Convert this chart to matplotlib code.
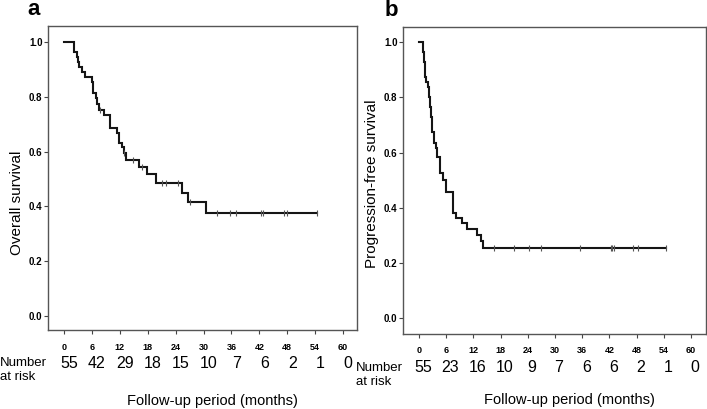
import numpy as np
import matplotlib
matplotlib.use("Agg")
import matplotlib.pyplot as plt
from matplotlib import font_manager

# ---------------- data ----------------
# Overall survival (panel a): step times (months) and survival after each step
os_times = [0, 2.15, 2.7, 3.0, 3.2, 3.8, 4.5, 6.0, 6.15, 6.3, 6.8, 7.0, 7.5, 8.6,
            9.9, 11.5, 11.9, 12.4, 12.9, 13.3, 16.1, 17.8, 19.8, 25.3, 26.6, 30.5]
os_surv = [1.0, 0.964, 0.945, 0.927, 0.909, 0.891, 0.873, 0.855, 0.836, 0.813, 0.795,
           0.774, 0.752, 0.733, 0.687, 0.669, 0.630, 0.618, 0.594, 0.569, 0.545,
           0.518, 0.486, 0.450, 0.417, 0.375]
os_censor = [7.7, 12.9, 14.8, 16.8, 21.0, 21.9, 24.6, 27.1, 32.8, 35.6, 37.0,
             42.4, 42.7, 47.2, 48.0, 54.5]
os_end = 54.5

# Progression-free survival (panel b)
pfs_times = [0, 0.8, 1.1, 1.25, 1.4, 1.55, 2.05, 2.2, 2.43, 2.6, 2.8, 3.3, 3.7, 4.04,
             4.63, 5.23, 5.96, 7.6, 8.16, 9.42, 10.6, 12.7, 13.6, 14.05]
pfs_surv = [1.0, 0.964, 0.927, 0.909, 0.873, 0.855, 0.836, 0.800, 0.764, 0.727,
            0.673, 0.636, 0.618, 0.582, 0.527, 0.500, 0.455, 0.382, 0.364, 0.345,
            0.323, 0.300, 0.280, 0.252]
pfs_censor = [16.6, 21.0, 24.3, 26.8, 35.5, 42.3, 42.6, 42.9, 47.1, 48.2, 54.5]
pfs_end = 54.5

x_ticks = [0, 6, 12, 18, 24, 30, 36, 42, 48, 54, 60]
y_ticks = [0.0, 0.2, 0.4, 0.6, 0.8, 1.0]
os_at_risk = ["55", "42", "29", "18", "15", "10", "7", "6", "2", "1", "0"]
pfs_at_risk = ["55", "23", "16", "10", "9", "7", "6", "6", "2", "1", "0"]

# ---------------- style ----------------
names = {f.name for f in font_manager.fontManager.ttflist}
narrow = 'Liberation Sans Narrow' if 'Liberation Sans Narrow' in names else 'Liberation Sans'
plt.rcParams['font.family'] = ['Liberation Sans', 'DejaVu Sans']

W, H = 707, 409
fig = plt.figure(figsize=(W / 100, H / 100), dpi=100)


def ax_rect(l, t, r, b):
    return [l / W, 1 - b / H, (r - l) / W, (b - t) / H]


def draw_km(ax, times, surv, censor, end):
    tt = list(times) + [end]
    ss = list(surv) + [surv[-1]]
    ax.step(tt, ss, where='post', color='#151515', lw=1.5, solid_joinstyle='miter')
    idx = np.searchsorted(np.array(times), np.array(censor), side='right') - 1
    cs = np.array(surv)[idx]
    ax.plot(censor, cs, linestyle='none', marker='|', markersize=4.5,
            markeredgewidth=0.8, color='#555555')


def style_ax(ax, xlim, ylim, xpad):
    ax.set_xlim(*xlim)
    ax.set_ylim(*ylim)
    ax.set_xticks(x_ticks)
    ax.set_yticks(y_ticks)
    ax.set_yticklabels([f"{v:.1f}" for v in y_ticks])
    for lab in ax.get_xticklabels():
        lab.set_family([narrow, 'DejaVu Sans'])
        lab.set_fontweight('bold')
        lab.set_fontsize(6.5)
    for lab in ax.get_yticklabels():
        lab.set_family([narrow, 'DejaVu Sans'])
        lab.set_fontweight('bold')
        lab.set_fontsize(7)
    ax.tick_params(axis='x', length=3, width=0.8, pad=xpad, direction='out',
                   color='#444444')
    ax.tick_params(axis='y', length=3, width=0.8, pad=1, direction='out',
                   color='#444444')
    for sp in ax.spines.values():
        sp.set_color('#555555')
        sp.set_linewidth(1.0)


# panel a
axa = fig.add_axes(ax_rect(48, 26, 357, 330))
draw_km(axa, os_times, os_surv, os_censor, os_end)
style_ax(axa, (-3.44, 63.0), (-0.051, 1.058), 6)
fig.text(17 / W, 1 - 203 / H, "Overall survival", rotation=90, ha='center',
         va='center', fontsize=11)

# panel b
axb = fig.add_axes(ax_rect(403, 27, 706, 334))
draw_km(axb, pfs_times, pfs_surv, pfs_censor, pfs_end)
style_ax(axb, (-3.53, 63.3), (-0.058, 1.055), 5.5)
fig.text(372 / W, 1 - 184 / H, "Progression-free survival", rotation=90,
         ha='center', va='center', fontsize=11)

# number at risk rows
for xv, lab in zip(x_ticks, os_at_risk):
    fig.text((64 + 4.65 * xv + 5) / W, 1 - 364 / H, lab, ha='center', va='center',
             fontsize=11.5)
for xv, lab in zip(x_ticks, pfs_at_risk):
    fig.text((419 + 4.533 * xv + 4) / W, 1 - 367 / H, lab, ha='center', va='center',
             fontsize=11.5)

fig.text(0 / W, 1 - 370 / H, "Number\nat risk", ha='left', va='center',
         fontsize=9.5, linespacing=1.15)
fig.text(356 / W, 1 - 375 / H, "Number\nat risk", ha='left', va='center',
         fontsize=9.5, linespacing=1.15)

fig.text(212 / W, 1 - 401 / H, "Follow-up period (months)", ha='center', va='center',
         fontsize=10.5)
fig.text(569 / W, 1 - 400 / H, "Follow-up period (months)", ha='center', va='center',
         fontsize=10.5)

fig.text(27 / W, 1 - 15 / H, "a", ha='left', va='baseline', fontsize=16, fontweight='bold')
fig.text(385 / W, 1 - 16 / H, "b", ha='left', va='baseline', fontsize=16, fontweight='bold')

fig.savefig("out.png", dpi=100)
